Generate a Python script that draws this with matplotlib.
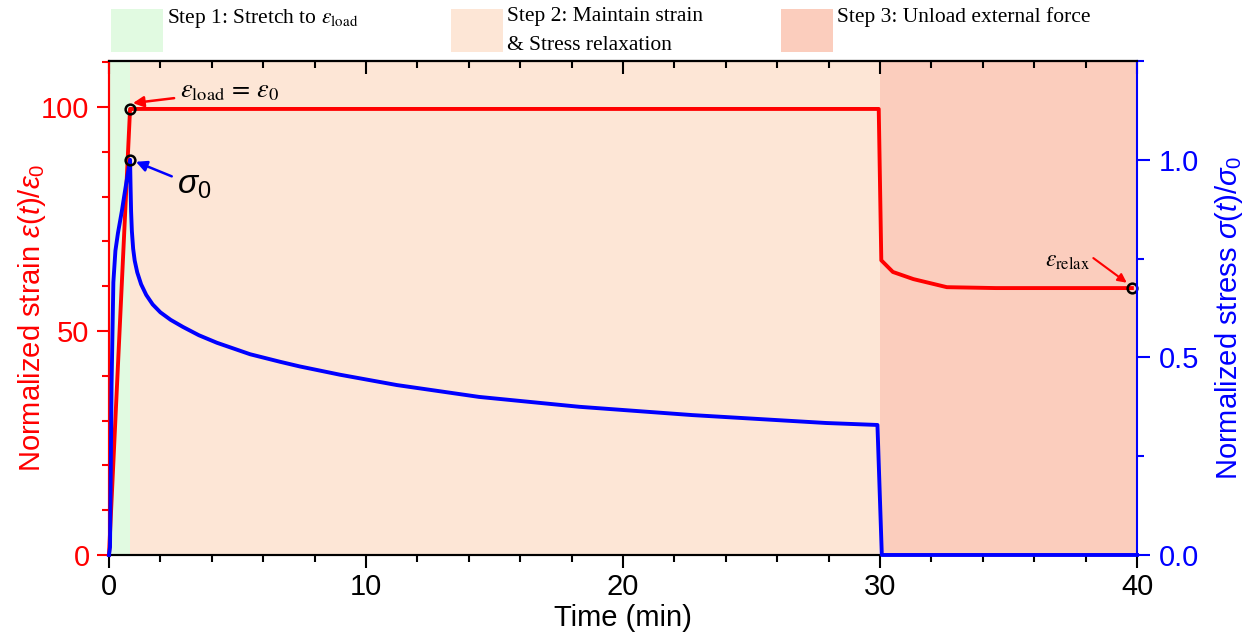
import matplotlib.pyplot as plt
from matplotlib.patches import Rectangle
from matplotlib.ticker import MultipleLocator

plt.rcParams['font.family'] = ['Liberation Sans', 'DejaVu Sans']
plt.rcParams['mathtext.fontset'] = 'custom'
plt.rcParams['mathtext.rm'] = 'Liberation Sans'
plt.rcParams['mathtext.it'] = 'Liberation Sans:italic'

# strain curve (left axis, normalized strain)
strain_t = [0, 0.82, 29.95, 30.05, 30.5, 31.3, 32.6, 34.5, 39.8]
strain_v = [0, 99.6, 99.6, 65.8, 63.2, 61.6, 59.8, 59.6, 59.6]

# stress curve (right axis, normalized stress)
stress_t = [0, 0.04, 0.1, 0.17, 0.25, 0.35, 0.5, 0.62, 0.72, 0.82,
            0.84, 0.86, 0.89, 0.94, 1.0, 1.1, 1.25, 1.45, 1.7, 2.0, 2.4, 2.88,
            3.5, 4.2, 5.49, 6.65, 7.43, 9.0, 11.2, 14.4, 18.3, 22.7, 27.9, 29.9,
            30.07, 40.0]
stress_v = [0, 0.02, 0.43, 0.69, 0.77, 0.815, 0.87, 0.92, 0.96, 1.0,
            0.93, 0.87, 0.82, 0.775, 0.745, 0.715, 0.685, 0.658, 0.634, 0.614, 0.595, 0.577,
            0.556, 0.537, 0.508, 0.489, 0.477, 0.456, 0.430, 0.400, 0.375, 0.354, 0.334, 0.329,
            0.0, 0.0]

# stage boundaries (min)
step_edges = [0, 0.82, 30.0, 40.0]
step_colors = ['#E1FAE1', '#FDE6D6', '#FBCDBD']
step_labels = [r'Step 1: Stretch to $\varepsilon_{\rm load}$',
               'Step 2: Maintain strain\n& Stress relaxation',
               'Step 3: Unload external force']

fig = plt.figure(figsize=(12.6, 6.41), dpi=100)
ax = fig.add_axes([0.0865, 0.1342, 0.8159, 0.7706])
ax2 = ax.twinx()

for i in range(3):
    ax.axvspan(step_edges[i], step_edges[i + 1], color=step_colors[i], lw=0, zorder=0)

ax.plot(strain_t, strain_v, color='red', lw=2.8, zorder=3, clip_on=False)
ax2.plot(stress_t, stress_v, color='blue', lw=2.8, zorder=3, clip_on=False)

ax.plot([strain_t[1]], [strain_v[1]], 'o', mfc='none', mec='black', ms=7, mew=1.8, zorder=5)
ax.plot([strain_t[-1]], [strain_v[-1]], 'o', mfc='none', mec='black', ms=7, mew=1.8, zorder=5, clip_on=False)
ax2.plot([stress_t[9]], [stress_v[9]], 'o', mfc='none', mec='black', ms=7, mew=1.8, zorder=5)

ax.set_xlim(0, 40)
ax.set_ylim(0, 110.3)
ax2.set_ylim(0, 1.25)

ax.xaxis.set_major_locator(MultipleLocator(10))
ax.xaxis.set_minor_locator(MultipleLocator(2))
ax.yaxis.set_major_locator(MultipleLocator(50))
ax.yaxis.set_minor_locator(MultipleLocator(10))
ax2.yaxis.set_major_locator(MultipleLocator(0.5))
ax2.yaxis.set_minor_locator(MultipleLocator(0.25))
ax2.yaxis.set_major_formatter(plt.FormatStrFormatter('%.1f'))

ax.tick_params(axis='x', which='major', direction='out', length=9, width=1.5, labelsize=21, pad=4)
ax.tick_params(axis='x', which='minor', direction='out', length=5, width=1.5)
ax.tick_params(axis='y', which='major', direction='out', length=9, width=1.5, colors='red',
               labelsize=21, pad=5)
ax.tick_params(axis='y', which='minor', direction='out', length=5, width=1.5, colors='red')
ax2.tick_params(axis='y', which='major', direction='out', length=9, width=1.5, colors='blue',
                labelsize=21, pad=7)
ax2.tick_params(axis='y', which='minor', direction='out', length=5, width=1.5, colors='blue')

top = ax.secondary_xaxis('top')
top.xaxis.set_major_locator(MultipleLocator(10))
top.xaxis.set_minor_locator(MultipleLocator(2))
top.tick_params(which='major', direction='in', length=9, width=1.5, labeltop=False)
top.tick_params(which='minor', direction='in', length=5, width=1.5)
top.spines['top'].set_linewidth(1.5)

for s in ['left', 'right', 'top', 'bottom']:
    ax.spines[s].set_linewidth(1.5)
    ax2.spines[s].set_linewidth(1.5)
ax.spines['left'].set_color('red')
ax2.spines['left'].set_color('red')
ax.spines['right'].set_visible(False)
ax2.spines['right'].set_color('blue')

ax.set_xlabel('Time (min)', fontsize=21, labelpad=2)
ax.set_ylabel(r'Normalized strain $\varepsilon(t)/\varepsilon_0$', fontsize=21, color='red')
ax2.set_ylabel(r'Normalized stress $\sigma(t)/\sigma_0$', fontsize=21, color='blue', rotation=90)
ax.yaxis.set_label_coords(-0.0593, 0.48)
ax2.yaxis.set_label_coords(1.074, 0.48)

ax.annotate(r'$\varepsilon_{\rm load}\,=\,\varepsilon_0$', xy=(0.93, 100.9), xytext=(2.75, 103.5),
            fontsize=19, math_fontfamily='stix', va='center', ha='left',
            arrowprops=dict(arrowstyle='-|>', color='red', lw=1.8, mutation_scale=16,
                            shrinkA=2, shrinkB=0))
ax2.annotate(r'$\sigma_0$', xy=(1.05, 0.995), xytext=(2.65, 0.935),
             fontsize=24, va='center', ha='left',
             arrowprops=dict(arrowstyle='-|>', color='blue', lw=1.8, mutation_scale=16,
                             shrinkA=2, shrinkB=0))
ax.text(37.3, 65.6, r'$\varepsilon_{\rm relax}$', fontsize=17, math_fontfamily='stix',
        va='center', ha='center')
ax.annotate('', xy=(39.6, 60.8), xytext=(38.3, 66.3),
            arrowprops=dict(arrowstyle='-|>', color='red', lw=1.5, mutation_scale=13,
                            shrinkA=0, shrinkB=0))

# legend boxes above the axes
box_x = [111, 451, 781]
for i in range(3):
    fig.patches.append(Rectangle((box_x[i] / 1260, 1 - 52 / 641), 52 / 1260, 43 / 641,
                                 transform=fig.transFigure, color=step_colors[i], lw=0))
    fig.text((box_x[i] + 56) / 1260, 1 - 7 / 641, step_labels[i], fontsize=15.5,
             family='Liberation Serif', math_fontfamily='stix', va='top', ha='left',
             linespacing=1.7)

fig.savefig('out.png', dpi=100)
